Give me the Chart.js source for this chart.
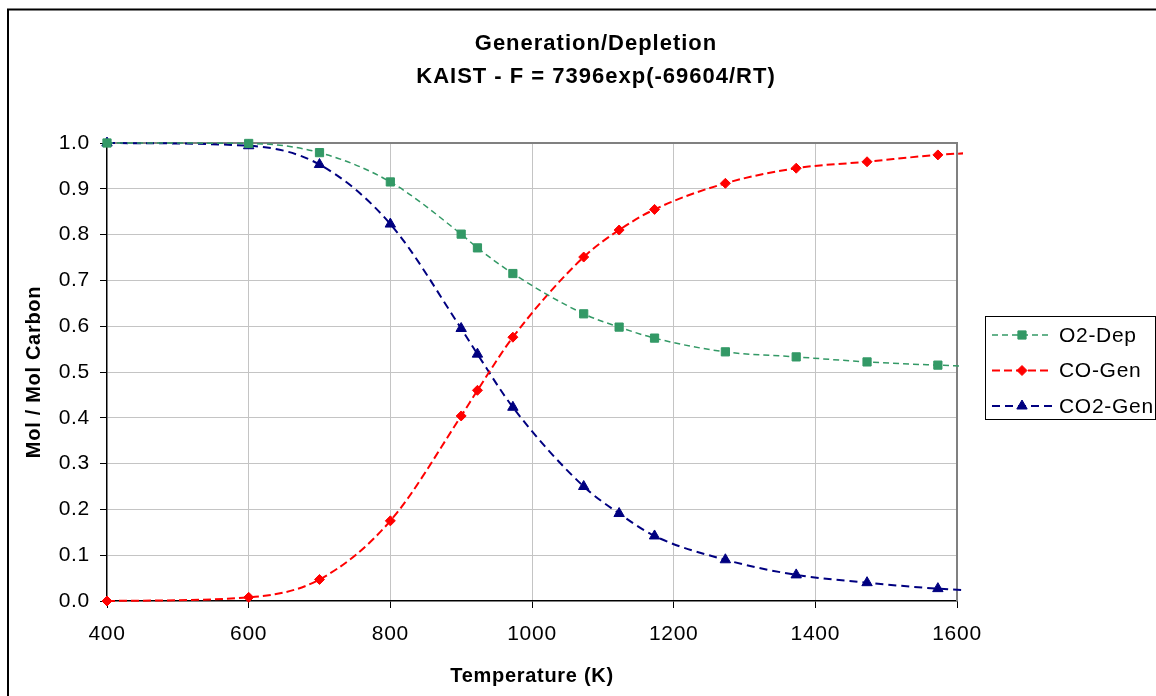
<!DOCTYPE html>
<html lang="en">
<head>
<meta charset="UTF-8">
<title>Generation/Depletion</title>
<style>
  html, body { margin: 0; padding: 0; background: #fff; overflow: hidden; }
  #chart { display: block; }
</style>
</head>
<body>
<canvas id="chart" width="1156" height="696"></canvas>

<script src="https://cdn.jsdelivr.net/npm/chart.js"></script>
<script>
// temperatures (K) of each computed state; the last one lies past the axis end
var temps  = [400, 600, 700, 800, 900, 923, 973, 1073, 1123, 1173, 1273, 1373, 1473, 1573, 1673];
var o2Dep  = [1.000, 0.999, 0.979, 0.915, 0.801, 0.771, 0.715, 0.627, 0.598, 0.574, 0.544, 0.533, 0.522, 0.515, 0.510];
var coGen  = [0.000, 0.008, 0.047, 0.175, 0.404, 0.460, 0.576, 0.751, 0.810, 0.855, 0.912, 0.945, 0.959, 0.974, 0.982];
var co2Gen = [1.000, 0.994, 0.953, 0.823, 0.595, 0.539, 0.423, 0.250, 0.191, 0.142, 0.090, 0.057, 0.040, 0.027, 0.020];

var seriesNames = ['O2-Dep', 'CO-Gen', 'CO2-Gen'];
var xTicks = [400, 600, 800, 1000, 1200, 1400, 1600];
var yTicks = [0.0, 0.1, 0.2, 0.3, 0.4, 0.5, 0.6, 0.7, 0.8, 0.9, 1.0];
var titleLines = ['Generation/Depletion', 'KAIST - F = 7396exp(-69604/RT)'];

var FONT = "'Liberation Sans', Arial, sans-serif";
var SPACING = '0.7px';

function toPoints(values) {
    return values.map(function(v, i) { return {x: temps[i], y: v}; });
}

function series(label, values, color, style, radius, dash, width) {
    return {
        label: label,
        data: toPoints(values),
        borderColor: color,
        backgroundColor: color,
        borderWidth: width,
        borderDash: dash,
        pointStyle: style,
        pointRadius: radius,
        pointBorderWidth: 1,
        pointBackgroundColor: color,
        pointBorderColor: color,
        cubicInterpolationMode: 'monotone',
        clip: {left: 8, top: 8, right: 6, bottom: 8}
    };
}

// slightly wide text, like the hinted office fonts
var spacingPlugin = {
    id: 'spacing',
    beforeUpdate: function(chart) { chart.ctx.letterSpacing = SPACING; },
    beforeDraw: function(chart) { chart.ctx.letterSpacing = SPACING; }
};

// gray frame on the top and right of the plot area
var plotFrame = {
    id: 'plotFrame',
    beforeDatasetsDraw: function(chart) {
        var a = chart.chartArea, ctx = chart.ctx;
        ctx.save();
        ctx.strokeStyle = '#808080';
        ctx.lineWidth = 2;
        ctx.beginPath();
        ctx.moveTo(a.left, a.top);
        ctx.lineTo(a.right, a.top);
        ctx.lineTo(a.right, a.bottom);
        ctx.stroke();
        ctx.restore();
    }
};

// two-line title, outer border and the boxed legend
var decorations = {
    id: 'decorations',
    afterDraw: function(chart) {
        var ctx = chart.ctx;
        ctx.save();

        ctx.strokeStyle = '#000';
        ctx.lineWidth = 2;
        ctx.strokeRect(8, 9.5, 1300, 1000);

        ctx.fillStyle = '#000';
        ctx.textAlign = 'center';
        ctx.textBaseline = 'middle';
        ctx.letterSpacing = '1px';
        ctx.font = 'bold 22px ' + FONT;
        titleLines.forEach(function(t, i) {
            ctx.fillText(t, 596, 44 + i * 33);
        });

        ctx.lineWidth = 1;
        ctx.strokeStyle = '#000';
        ctx.strokeRect(985.5, 316.5, 170, 103);

        ctx.letterSpacing = SPACING;
        ctx.font = '21px ' + FONT;
        ctx.textAlign = 'left';
        chart.data.datasets.forEach(function(ds, i) {
            var y = 335 + i * 35.5;
            ctx.save();
            ctx.strokeStyle = ds.borderColor;
            ctx.lineWidth = ds.borderWidth;
            ctx.setLineDash(ds.borderDash);
            ctx.beginPath();
            ctx.moveTo(992, y);
            ctx.lineTo(1052, y);
            ctx.stroke();
            ctx.setLineDash([]);
            ctx.fillStyle = ds.pointBackgroundColor;
            ctx.strokeStyle = ds.pointBorderColor;
            ctx.lineWidth = 1;
            Chart.helpers.drawPoint(ctx, {
                pointStyle: ds.pointStyle,
                radius: ds.pointRadius,
                borderWidth: 1,
                rotation: 0
            }, 1022, y);
            ctx.restore();
            ctx.fillStyle = '#000';
            ctx.fillText(ds.label, 1059, y + 1);
        });
        ctx.restore();
    }
};

function gridColor(ctx) {
    return ctx.index === 0 ? 'rgba(0,0,0,0)' : '#c4c4c4';
}

var chart = new Chart(document.getElementById('chart'), {
    type: 'line',
    data: {
        datasets: [
            series(seriesNames[0], o2Dep,  '#339966', 'rect',     5.8, [6, 4], 1.5),
            series(seriesNames[1], coGen,  '#ff0000', 'rectRot',  5,   [8, 4], 2),
            series(seriesNames[2], co2Gen, '#000080', 'triangle', 6,   [8, 5], 2)
        ]
    },
    plugins: [spacingPlugin, plotFrame, decorations],
    options: {
        responsive: false,
        animation: false,
        events: [],
        layout: { padding: {left: 0, top: 143, right: 199, bottom: 0} },
        plugins: {
            legend: { display: false },
            title: { display: false },
            tooltip: { enabled: false }
        },
        scales: {
            x: {
                type: 'linear',
                min: xTicks[0],
                max: xTicks[xTicks.length - 1],
                afterBuildTicks: function(scale) {
                    scale.ticks = xTicks.map(function(v) { return {value: v}; });
                },
                afterFit: function(scale) { scale.height = 95; },
                grid: { color: gridColor, tickColor: '#000', tickLength: 7, lineWidth: 1 },
                border: { color: '#000', width: 1.5 },
                ticks: {
                    autoSkip: false,
                    maxRotation: 0,
                    padding: 14,
                    color: '#000',
                    font: { family: FONT, size: 21 },
                    callback: function(v) { return String(v); }
                },
                title: {
                    display: true,
                    text: 'Temperature (K)',
                    color: '#000',
                    font: { family: FONT, size: 20, weight: 'bold' },
                    padding: { top: 0, bottom: 8 }
                }
            },
            y: {
                min: yTicks[0],
                max: yTicks[yTicks.length - 1],
                afterBuildTicks: function(scale) {
                    scale.ticks = yTicks.map(function(v) { return {value: v}; });
                },
                afterFit: function(scale) { scale.width = 107; },
                grid: { color: gridColor, tickColor: '#000', tickLength: 7, lineWidth: 1 },
                border: { color: '#000', width: 1.5 },
                ticks: {
                    padding: 10,
                    color: '#000',
                    font: { family: FONT, size: 21 },
                    callback: function(v) { return v.toFixed(1); }
                },
                title: {
                    display: true,
                    text: 'Mol / Mol Carbon',
                    color: '#000',
                    font: { family: FONT, size: 20, weight: 'bold' },
                    padding: { top: 22, bottom: 0 }
                }
            }
        }
    }
});
</script>
</body>
</html>
